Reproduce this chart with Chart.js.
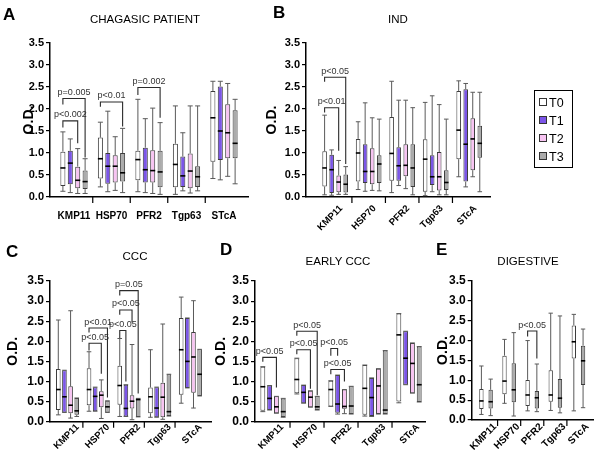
<!DOCTYPE html>
<html>
<head>
<meta charset="utf-8">
<script src="https://cdn.jsdelivr.net/npm/chart.js@4.4.1/dist/chart.umd.min.js"></script>
<style>
  html, body { margin: 0; padding: 0; background: #fff; }
  #wrap { position: relative; width: 600px; height: 456px; overflow: hidden; font-family: 'Liberation Sans', Arial, sans-serif; color: #000; }
  #wrap canvas { position: absolute; left: 0; top: 0; }
  .t { position: absolute; white-space: nowrap; line-height: 1; }
  .letter { font-size: 17px; font-weight: bold; }
  .title { font-size: 11.5px; transform: translateX(-50%); }
  #legend { position: absolute; left: 534px; top: 90px; width: 39px; height: 78px; border: 1px solid #000; box-sizing: border-box; }
  #legend .row { position: absolute; left: 4px; font-size: 12.5px; line-height: 1; }
  #legend .sw { display: inline-block; width: 6px; height: 6px; border: 1px solid #333; margin-right: 2px; vertical-align: 1px; }
</style>
</head>
<body>
<div id="wrap">
  <canvas id="pA" width="600" height="456"></canvas>
  <canvas id="pB" width="600" height="456"></canvas>
  <canvas id="pC" width="600" height="456"></canvas>
  <canvas id="pD" width="600" height="456"></canvas>
  <canvas id="pE" width="600" height="456"></canvas>

  <div class="t letter" style="left:3px;top:6px">A</div>
  <div class="t letter" style="left:273px;top:4px">B</div>
  <div class="t letter" style="left:6px;top:243px">C</div>
  <div class="t letter" style="left:220px;top:241px">D</div>
  <div class="t letter" style="left:436px;top:241px">E</div>

  <div class="t title" style="left:145px;top:14px">CHAGASIC PATIENT</div>
  <div class="t title" style="left:398px;top:14px">IND</div>
  <div class="t title" style="left:135px;top:251px">CCC</div>
  <div class="t title" style="left:338px;top:256px">EARLY CCC</div>
  <div class="t title" style="left:528px;top:256px">DIGESTIVE</div>

  <div id="legend"></div>
</div>

<script>
const GROUPS = ['KMP11', 'HSP70', 'PFR2', 'Tgp63', 'STcA'];
const FILLS = { T0: '#ffffff', T1: '#7b55e8', T2: '#f7c4f2', T3: '#ababab' };

// each entry: [min, q1, median, q3, max] for KMP11, HSP70, PFR2, Tgp63, STcA
const A_T0 = [[0.13, 0.25, 0.66, 1.03, 1.48], [0.23, 0.42, 0.87, 1.35, 1.70], [0.12, 0.38, 0.85, 1.05, 2.22], [0.06, 0.22, 0.74, 1.21, 2.07], [0.42, 0.80, 1.80, 2.41, 2.63]];
const A_T1 = [[0.10, 0.29, 0.77, 1.05, 1.32], [0.12, 0.30, 0.70, 1.00, 1.95], [0.10, 0.33, 0.62, 1.12, 1.78], [0.14, 0.23, 0.48, 0.92, 1.46], [0.39, 0.84, 1.50, 2.51, 2.63]];
const A_T2 = [[0.08, 0.20, 0.38, 0.69, 1.10], [0.15, 0.33, 0.70, 0.95, 1.37], [0.08, 0.33, 0.60, 1.06, 2.02], [0.09, 0.20, 0.59, 0.99, 2.07], [0.47, 0.88, 1.46, 2.11, 2.58]];
const A_T3 = [[0.08, 0.18, 0.35, 0.60, 0.87], [0.10, 0.35, 0.55, 1.00, 1.56], [0.06, 0.22, 0.57, 1.05, 1.69], [0.14, 0.23, 0.46, 0.70, 2.07], [0.30, 0.88, 1.22, 1.97, 2.22]];

const B_T0 = [[0.05, 0.24, 0.66, 1.04, 1.86], [0.17, 0.35, 1.00, 1.32, 1.71], [0.10, 0.37, 0.99, 1.82, 2.63], [0.03, 0.12, 0.86, 1.31, 2.15], [0.46, 0.86, 1.52, 2.41, 2.64]];
const B_T1 = [[0.04, 0.09, 0.62, 0.96, 1.07], [0.13, 0.32, 0.58, 1.20, 2.14], [0.26, 0.37, 0.71, 1.13, 2.20], [0.12, 0.27, 0.46, 0.95, 2.30], [0.23, 0.35, 1.20, 2.45, 2.58]];
const B_T2 = [[0.06, 0.11, 0.34, 0.49, 0.83], [0.15, 0.29, 0.58, 1.11, 1.80], [0.19, 0.47, 0.72, 1.20, 2.20], [0.05, 0.15, 0.46, 1.02, 2.10], [0.46, 0.61, 1.32, 1.79, 2.38]];
const B_T3 = [[0.06, 0.10, 0.29, 0.51, 0.69], [0.14, 0.32, 0.75, 0.95, 1.77], [0.05, 0.23, 0.66, 1.20, 2.03], [0.05, 0.16, 0.33, 0.61, 1.77], [0.12, 0.89, 1.22, 1.62, 2.38]];

const C_T0 = [[0.17, 0.29, 0.80, 1.31, 2.53], [0.26, 0.41, 0.80, 1.33, 1.74], [0.13, 0.42, 0.90, 1.39, 2.07], [0.11, 0.21, 0.62, 0.85, 1.79], [0.46, 0.67, 1.79, 2.58, 3.10]];
const C_T1 = [[0.23, 0.23, 0.62, 1.28, 1.28], [0.26, 0.26, 0.63, 0.86, 0.86], [0.13, 0.13, 0.33, 0.92, 0.92], [0.11, 0.11, 0.34, 0.86, 0.86], [0.84, 0.84, 1.50, 2.58, 2.58]];
const C_T2 = [[0.09, 0.21, 0.41, 0.88, 2.76], [0.08, 0.36, 0.66, 0.76, 1.04], [0.05, 0.33, 0.51, 0.66, 1.92], [0.06, 0.11, 0.61, 0.97, 2.43], [0.34, 0.72, 1.61, 2.23, 3.01]];
const C_T3 = [[0.13, 0.17, 0.27, 0.59, 0.59], [0.23, 0.23, 0.37, 0.52, 0.52], [0.12, 0.12, 0.55, 0.58, 0.58], [0.14, 0.14, 0.25, 1.18, 1.18], [0.64, 0.64, 1.18, 1.80, 1.80]];

const D_T0 = [[0.25, 0.27, 0.87, 1.37, 1.37], [0.69, 0.71, 1.05, 1.58, 1.58], [0.38, 0.38, 0.80, 1.02, 1.02], [0.14, 0.17, 0.83, 1.41, 1.41], [0.47, 0.50, 2.16, 2.69, 2.69]];
const D_T1 = [[0.29, 0.29, 0.58, 0.90, 0.90], [0.46, 0.46, 0.73, 0.91, 0.91], [0.19, 0.22, 0.44, 1.16, 1.16], [0.13, 0.14, 0.60, 1.09, 1.09], [0.92, 0.92, 1.58, 2.25, 2.25]];
const D_T2 = [[0.21, 0.21, 0.37, 0.63, 0.63], [0.36, 0.36, 0.61, 0.77, 0.77], [0.20, 0.32, 0.38, 0.80, 0.80], [0.19, 0.19, 0.89, 1.32, 1.32], [0.71, 0.71, 1.45, 1.96, 1.96]];
const D_T3 = [[0.11, 0.12, 0.25, 0.58, 0.58], [0.29, 0.29, 0.37, 0.63, 0.63], [0.19, 0.19, 0.39, 0.88, 0.88], [0.19, 0.19, 0.29, 1.77, 1.77], [0.49, 0.49, 0.92, 1.87, 1.87]];

const E_T0 = [[0.14, 0.28, 0.48, 0.78, 1.36], [0.42, 0.65, 0.98, 1.62, 2.03], [0.23, 0.35, 0.63, 1.01, 2.00], [0.24, 0.46, 0.63, 1.25, 2.69], [0.23, 1.55, 1.97, 2.38, 2.66]];
const E_T3 = [[0.11, 0.29, 0.46, 0.76, 1.03], [0.10, 0.45, 0.76, 1.43, 2.20], [0.21, 0.29, 0.56, 0.73, 1.41], [0.18, 0.31, 0.55, 1.03, 2.62], [0.31, 0.88, 1.49, 1.87, 2.29]];

// significance brackets: group, from series, to series, bar height, left end, right end, label
const A_SIG = [
  [0, 0, 2, 1.73, 1.58, 1.22, 'p<0.002'],
  [0, 0, 3, 2.24, 2.10, 0.90, 'p=0.005'],
  [1, 0, 3, 2.16, 2.05, 1.60, 'p<0.01'],
  [2, 0, 3, 2.49, 2.32, 1.80, 'p=0.002']
];
const B_SIG = [
  [0, 0, 2, 2.03, 1.92, 1.05, 'p<0.01'],
  [0, 0, 3, 2.72, 2.62, 0.75, 'p<0.05']
];
const C_SIG = [
  [1, 0, 2, 1.95, 1.77, 1.19, 'p<0.05'],
  [1, 0, 3, 2.33, 2.22, 0.60, 'p<0.01'],
  [2, 0, 1, 2.27, 2.08, 1.00, 'p<0.05'],
  [2, 0, 2, 2.78, 2.66, 2.47, 'p<0.05'],
  [2, 0, 3, 3.26, 3.14, 0.70, 'p=0.05']
];
const D_SIG = [
  [0, 0, 2, 1.60, 1.49, 0.85, 'p<0.05'],
  [1, 0, 2, 1.79, 1.68, 0.82, 'p<0.05'],
  [1, 0, 3, 2.25, 2.14, 0.66, 'p<0.05'],
  [2, 0, 1, 1.82, 1.64, 1.64, 'p<0.05'],
  [2, 0, 2, 1.30, 1.18, 1.00, 'p<0.05']
];
const E_SIG = [
  [2, 0, 1, 2.24, 2.10, 1.55, 'p<0.05']
];

const FONT = "'Liberation Sans', Arial, sans-serif";

const boxPlot = {
  id: 'boxPlot',
  afterDatasetsDraw(chart) {
    const { ctx } = chart;
    const xs = chart.scales.x, ys = chart.scales.y;
    const area = chart.chartArea;
    ctx.save();
    chart.data.datasets.forEach((ds, di) => {
      const meta = chart.getDatasetMeta(di);
      meta.data.forEach((bar, i) => {
        const [mn, q1, md, q3, mx] = ds.stats[i];
        const h = bar.width / 2;
        const pMin = ys.getPixelForValue(mn), pMax = ys.getPixelForValue(mx);
        const pQ1 = ys.getPixelForValue(q1), pQ3 = ys.getPixelForValue(q3);
        const pMd = ys.getPixelForValue(md);
        ctx.strokeStyle = '#5a5a5a';
        ctx.lineWidth = 1;
        ctx.beginPath();
        ctx.moveTo(bar.x, pQ3); ctx.lineTo(bar.x, pMax);
        ctx.moveTo(bar.x - h, pMax); ctx.lineTo(bar.x + h, pMax);
        ctx.moveTo(bar.x, pQ1); ctx.lineTo(bar.x, pMin);
        ctx.moveTo(bar.x - h, pMin); ctx.lineTo(bar.x + h, pMin);
        ctx.stroke();
        ctx.strokeStyle = '#000';
        ctx.lineWidth = 1.6;
        ctx.beginPath();
        ctx.moveTo(bar.x - h, pMd); ctx.lineTo(bar.x + h, pMd);
        ctx.stroke();
      });
    });

    // group dividers below the x axis
    ctx.strokeStyle = '#000';
    ctx.lineWidth = 1.2;
    ctx.beginPath();
    for (let i = 0; i < GROUPS.length - 1; i++) {
      const px = xs.getPixelForValue(i + 0.5);
      ctx.moveTo(px, area.bottom);
      ctx.lineTo(px, area.bottom + 6);
    }
    ctx.stroke();

    // brackets
    const sig = chart.options.plugins.boxPlot.sig || [];
    ctx.strokeStyle = '#2a2a2a';
    ctx.fillStyle = '#333';
    ctx.lineWidth = 1.1;
    ctx.font = '9px ' + FONT;
    ctx.textAlign = 'center';
    ctx.textBaseline = 'bottom';
    sig.forEach(([g, a, b, yv, ya, yb, label]) => {
      const xa = chart.getDatasetMeta(a).data[g].x;
      const xb = chart.getDatasetMeta(b).data[g].x;
      const py = ys.getPixelForValue(yv);
      ctx.beginPath();
      ctx.moveTo(xa, ys.getPixelForValue(ya));
      ctx.lineTo(xa, py);
      ctx.lineTo(xb, py);
      ctx.lineTo(xb, ys.getPixelForValue(yb));
      ctx.stroke();
      ctx.fillText(label, (xa + xb) / 2, py - 1.5);
    });
    ctx.restore();
  }
};

function makePanel(id, p) {
  const datasets = p.series.map(([name, stats]) => ({
    label: name,
    stats: stats,
    data: stats.map((s, i) => ({ x: i, y: [s[1], s[3]] })),
    backgroundColor: FILLS[name],
    borderColor: '#3c3c3c',
    borderWidth: 1,
    borderSkipped: false,
    categoryPercentage: p.cp,
    barPercentage: p.bp
  }));

  new Chart(document.getElementById(id), {
    type: 'bar',
    data: { datasets },
    plugins: [boxPlot],
    options: {
      responsive: false,
      animation: false,
      events: [],
      layout: {
        padding: { left: p.L - p.yW, right: 600 - p.R, top: p.T, bottom: 456 - p.B - p.xH }
      },
      plugins: {
        legend: { display: false },
        tooltip: { enabled: false },
        boxPlot: { sig: p.sig }
      },
      scales: {
        x: {
          type: 'linear',
          min: p.xMin,
          max: p.xMax,
          offset: false,
          afterBuildTicks: s => { s.ticks = GROUPS.map((g, i) => ({ value: i })); },
          afterFit: s => { s.height = p.xH; },
          border: { color: '#000', width: 1.5 },
          grid: { display: false },
          ticks: {
            autoSkip: false,
            minRotation: p.rot,
            maxRotation: p.rot,
            padding: p.xPad,
            labelOffset: p.lblOff,
            color: '#000',
            font: { family: FONT, size: p.xFont, weight: 'bold' },
            callback: v => GROUPS[v]
          }
        },
        y: {
          min: 0,
          max: 3.5,
          afterFit: s => { s.width = p.yW; },
          border: { color: '#000', width: 1.5 },
          grid: { drawOnChartArea: false, drawTicks: true, tickLength: 4, color: '#000', lineWidth: 1.2 },
          ticks: {
            stepSize: 0.5,
            padding: 2,
            color: '#000',
            font: { family: FONT, size: p.yFont, weight: 'bold' },
            callback: v => v.toFixed(1)
          },
          title: {
            display: true,
            text: 'O.D.',
            color: '#000',
            font: { family: FONT, size: 14, weight: 'bold' },
            padding: { top: p.titlePad, bottom: 0 }
          }
        }
      }
    }
  });
}

makePanel('pA', {
  series: [['T0', A_T0], ['T1', A_T1], ['T2', A_T2], ['T3', A_T3]], sig: A_SIG,
  L: 50, R: 248, T: 43, B: 197, xMin: -0.64, xMax: 4.64, yW: 40, titlePad: 10.6,
  cp: 0.79, bp: 0.68, rot: 0, xH: 30, xPad: 5, lblOff: 0, xFont: 10, yFont: 11
});
makePanel('pB', {
  series: [['T0', B_T0], ['T1', B_T1], ['T2', B_T2], ['T3', B_T3]], sig: B_SIG,
  L: 306, R: 490, T: 43, B: 197, xMin: -0.87, xMax: 4.62, yW: 44, titlePad: 1.6,
  cp: 0.84, bp: 0.65, rot: 45, xH: 40, xPad: -2, lblOff: 6, xFont: 9.5, yFont: 11
});
makePanel('pC', {
  series: [['T0', C_T0], ['T1', C_T1], ['T2', C_T2], ['T3', C_T3]], sig: C_SIG,
  L: 50, R: 211, T: 281, B: 421.7, xMin: -0.57, xMax: 4.67, yW: 46, titlePad: 0.6,
  cp: 0.8, bp: 0.75, rot: 45, xH: 30, xPad: -8, lblOff: 10, xFont: 9.5, yFont: 12
});
makePanel('pD', {
  series: [['T0', D_T0], ['T1', D_T1], ['T2', D_T2], ['T3', D_T3]], sig: D_SIG,
  L: 255, R: 425, T: 281, B: 421.7, xMin: -0.53, xMax: 4.47, yW: 44, titlePad: 1.6,
  cp: 0.8, bp: 0.72, rot: 45, xH: 30, xPad: -8, lblOff: 9, xFont: 9.5, yFont: 12
});
makePanel('pE', {
  series: [['T0', E_T0], ['T3', E_T3]], sig: E_SIG,
  L: 471.7, R: 593, T: 281, B: 420, xMin: -0.62, xMax: 4.63, yW: 44, titlePad: 6.9,
  cp: 0.8, bp: 0.47, rot: 45, xH: 30, xPad: -7, lblOff: 9, xFont: 10, yFont: 12
});

// legend box
const legend = document.getElementById('legend');
['T0', 'T1', 'T2', 'T3'].forEach((name, i) => {
  const row = document.createElement('div');
  row.className = 'row';
  row.style.top = (6 + i * 18) + 'px';
  row.innerHTML = `<span class="sw" style="background:${FILLS[name]}"></span>${name}`;
  legend.appendChild(row);
});
</script>
</body>
</html>
